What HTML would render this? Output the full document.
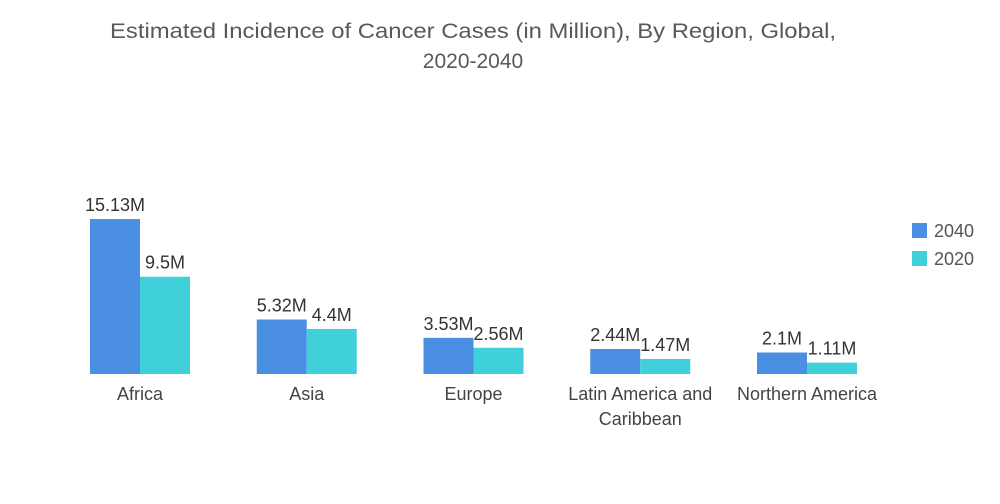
<!DOCTYPE html>
<html><head><meta charset="utf-8"><style>
body{margin:0;background:#fff;font-family:"Liberation Sans",sans-serif;}
svg{display:block}
</style></head><body>
<svg width="1000" height="504" id="c">
<text x="473" y="38" text-anchor="middle" font-size="21" fill="#595959" textLength="726" lengthAdjust="spacingAndGlyphs">Estimated Incidence of Cancer Cases (in Million), By Region, Global,</text>
<text x="473" y="68" text-anchor="middle" font-size="21" fill="#595959">2020-2040</text>
<g>
<rect x="912" y="223" width="15" height="15" fill="#4a8fe2"/>
<text x="934" y="237" font-size="18" fill="#555">2040</text>
<rect x="912" y="251" width="15" height="15" fill="#3fd0da"/>
<text x="934" y="265" font-size="18" fill="#555">2020</text>
</g>
<g id="bars"></g>
</svg>
<script>
const categories=[["Africa"],["Asia"],["Europe"],["Latin America and","Caribbean"],["Northern America"]];
const s2040=[15.13,5.32,3.53,2.44,2.1];
const s2020=[9.5,4.4,2.56,1.47,1.11];
const l2040=["15.13M","5.32M","3.53M","2.44M","2.1M"];
const l2020=["9.5M","4.4M","2.56M","1.47M","1.11M"];
const base=374, scale=10.24, x0=140, step=166.75, bw=50;
const y=v=>base-v*scale;
const g=document.getElementById('bars');
const NS="http://www.w3.org/2000/svg";
function mk(t,a){const e=document.createElementNS(NS,t);for(const k in a)e.setAttribute(k,a[k]);g.appendChild(e);return e;}
categories.forEach((c,i)=>{
 const cx=x0+i*step;
 [[s2040,l2040,"#4a8fe2",-bw,"2040"],[s2020,l2020,"#3fd0da",0,"2020"]].forEach(([s,l,col,off,nm])=>{
  const r=mk('rect',{x:cx+off,y:y(s[i]),width:bw,height:s[i]*scale,fill:col});
  
  
  const t=mk('text',{x:cx+off+bw/2,y:y(s[i])-8,'text-anchor':'middle','font-size':18,fill:'#333'});
  t.textContent=l[i];
  
  
 });
 c.forEach((ln,j)=>{
  const t=mk('text',{x:cx,y:400+j*25,'text-anchor':'middle','font-size':18,fill:'#444'});
  t.textContent=ln;
  
  
 });
});
</script>
</body></html>
